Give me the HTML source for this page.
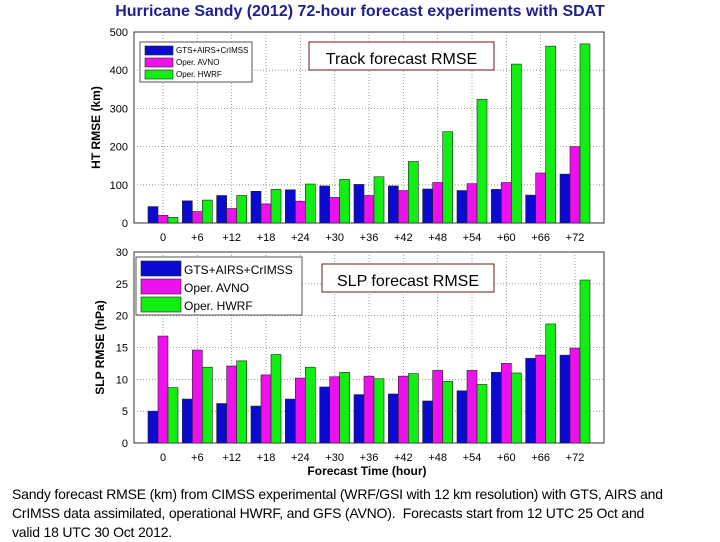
<!DOCTYPE html>
<html><head><meta charset="utf-8"><style>
body{margin:0;width:720px;height:540px;background:#fff;overflow:hidden;position:relative;font-family:"Liberation Sans",sans-serif}
#title{position:absolute;left:0;top:3px;width:720px;text-align:center;font-size:16px;font-weight:bold;color:#1f1f8f;font-family:"Liberation Sans Narrow","Liberation Sans",sans-serif}
#cap{position:absolute;left:12px;top:485px;width:708px;font-size:14px;line-height:19px;color:#000;white-space:nowrap;letter-spacing:-0.2px;font-family:"Liberation Sans Narrow","Liberation Sans",sans-serif}
svg{position:absolute;left:0;top:0}
</style></head><body>
<div id="title">Hurricane Sandy (2012) 72-hour forecast experiments with SDAT</div>
<svg id="s" width="720" height="540"></svg>
<div id="cap">Sandy forecast RMSE (km) from CIMSS experimental (WRF/GSI with 12 km resolution) with GTS, AIRS and<br>CrIMSS data assimilated, operational HWRF, and GFS (AVNO).&nbsp; Forecasts start from 12 UTC 25 Oct and<br>valid 18 UTC 30 Oct 2012.</div>
<script>
const categories=["0","+6","+12","+18","+24","+30","+36","+42","+48","+54","+60","+66","+72"];
const seriesNames=["GTS+AIRS+CrIMSS","Oper. AVNO","Oper. HWRF"];
const trackGTS=[43,58,72,83,87,97,101,97,89,85,88,73,128];
const trackAVNO=[20,30,38,50,57,67,72,85,106,103,106,131,200];
const trackHWRF=[15,60,72,88,102,114,121,161,239,324,416,463,469];
const slpGTS=[5,6.9,6.2,5.8,6.9,8.8,7.6,7.7,6.6,8.2,11.1,13.3,13.8];
const slpAVNO=[16.8,14.6,12.1,10.7,10.2,10.4,10.5,10.5,11.4,11.4,12.5,13.8,14.9];
const slpHWRF=[8.7,11.9,12.9,13.9,11.9,11.1,10.1,10.9,9.7,9.2,11.0,18.7,25.6];
const trackTicks=[0,100,200,300,400,500];
const slpTicks=[0,5,10,15,20,25,30];
const colors=["#0a0ad0","#ee11ee","#11ee11"];
const NS="http://www.w3.org/2000/svg";
const svg=document.getElementById('s');
function mk(t,a,p){const e=document.createElementNS(NS,t);for(const k in a)e.setAttribute(k,a[k]);(p||svg).appendChild(e);return e;}
function chart(o){
  const g=mk('g',{});
  
  
  const L=134,R=604,T=o.top,B=o.bot;
  const x=i=>163+i*(575-163)/12;
  const y=v=>B-(v/o.max)*(B-T);
  mk('rect',{x:L,y:T,width:R-L,height:B-T,fill:'#fff',stroke:'#333','stroke-width':1},g);
  o.ticks.forEach(t=>{
    if(t>0&&t<o.max){mk('line',{x1:L,x2:R,y1:y(t),y2:y(t),stroke:'#888','stroke-dasharray':'1,2','stroke-width':0.8},g);}
    const tx=mk('text',{x:L-6,y:y(t)+4,'text-anchor':'end','font-size':11,fill:'#000'},g);tx.textContent=t;
    
  });
  categories.forEach((c,i)=>{
    mk('line',{x1:x(i),x2:x(i),y1:T,y2:B,stroke:'#888','stroke-dasharray':'1,2','stroke-width':0.8},g);
    const tx=mk('text',{x:x(i),y:B+18,'text-anchor':'middle','font-size':11,fill:'#000'},g);tx.textContent=c;
    
  });
  o.series.forEach((s,j)=>{
    s.forEach((v,i)=>{
      const r=mk('rect',{x:x(i)+(j-1)*10-5,y:y(v),width:10,height:B-y(v),fill:colors[j],stroke:'#222','stroke-width':0.6},g);
      
      
    });
  });
  const yt=mk('text',{x:0,y:0,transform:`translate(${o.ylx},${(T+B)/2}) rotate(-90)`,'text-anchor':'middle','font-size':12,'font-weight':'bold'},g);
  yt.textContent=o.ylabel;
  const lg=mk('g',{},g);
  mk('rect',{x:o.lg.x,y:o.lg.y,width:o.lg.w,height:o.lg.h,fill:'#fff',stroke:'#555'},lg);
  seriesNames.forEach((n,j)=>{
    const yy=o.lg.y+4+j*o.lg.row;
    mk('rect',{x:o.lg.x+5,y:yy,width:o.lg.sw,height:o.lg.row-3,fill:colors[j],stroke:'#222','stroke-width':0.6},lg);
    const t=mk('text',{x:o.lg.x+8+o.lg.sw,y:yy+o.lg.row-5,'font-size':o.lg.fs},lg);t.textContent=n;
    
  });
  mk('rect',{x:o.box.x,y:o.box.y,width:o.box.w,height:o.box.h,fill:'#fff',stroke:'#6b1a1a'},g);
  const bt=mk('text',{x:o.box.x+o.box.w/2,y:o.box.y+o.box.h-6,'text-anchor':'middle','font-size':16},g);
  bt.textContent=o.boxText;
}
chart({name:'track-chart',key:'track',top:32,bot:223,max:500,ticks:trackTicks,series:[trackGTS,trackAVNO,trackHWRF],ylabel:'HT RMSE (km)',ylx:100,
  lg:{x:140,y:42,w:112,h:40,row:12,sw:28,fs:8},box:{x:309,y:42,w:185,h:28},boxText:'Track forecast RMSE'});
chart({name:'slp-chart',key:'slp',top:252,bot:443,max:30,ticks:slpTicks,series:[slpGTS,slpAVNO,slpHWRF],ylabel:'SLP RMSE (hPa)',ylx:104,
  lg:{x:136,y:257,w:166,h:58,row:18,sw:40,fs:12},box:{x:322,y:264,w:172,h:28},boxText:'SLP forecast RMSE'});
const xt=mk('text',{x:367,y:475,'text-anchor':'middle','font-size':12,'font-weight':'bold'});
xt.textContent='Forecast Time (hour)';


</script>
</body></html>
